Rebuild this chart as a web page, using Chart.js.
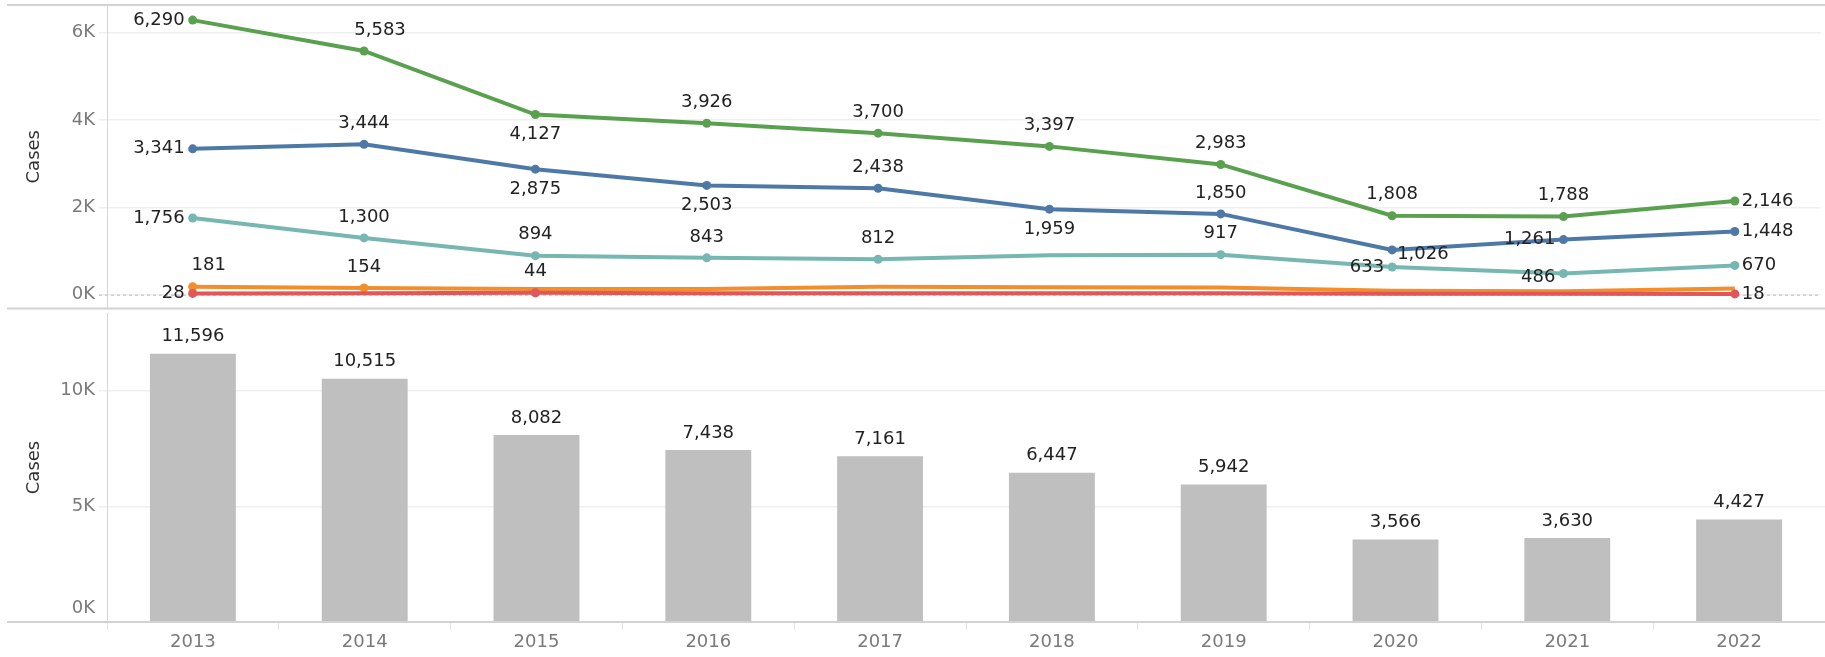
<!DOCTYPE html>
<html>
<head>
<meta charset="utf-8">
<script src="https://cdn.jsdelivr.net/npm/chart.js@4.4.1/dist/chart.umd.min.js"></script>
<style>
  body { margin: 0; background: #fff; }
  #wrap { position: relative; width: 1825px; height: 657px; }
  canvas { position: absolute; left: 0; }
</style>
</head>
<body>
<div id="wrap">
  <canvas id="lineChart" width="1825" height="313" style="top:0"></canvas>
  <canvas id="barChart" width="1825" height="344" style="top:313px"></canvas>
</div>
<script>
// categories
var years = ['2013', '2014', '2015', '2016', '2017', '2018', '2019', '2020', '2021', '2022'];

// line series (cases per year)
var greenCases  = [6290, 5583, 4127, 3926, 3700, 3397, 2983, 1808, 1788, 2146];
var blueCases   = [3341, 3444, 2875, 2503, 2438, 1959, 1850, 1026, 1261, 1448];
var tealCases   = [1756, 1300, 894, 843, 812, 905, 917, 633, 486, 670];
var orangeCases = [181, 154, 130, 130, 180, 170, 165, 90, 80, 140];
var redCases    = [28, 30, 44, 35, 35, 30, 32, 20, 20, 18];

// totals for the bars
var totalCases = [11596, 10515, 8082, 7438, 7161, 6447, 5942, 3566, 3630, 4427];

// tick labels
var topTicks = [0, 2000, 4000, 6000];
var bottomTicks = [0, 5000, 10000];

// where each label sits (null = no label / no marker)
var greenPos  = ['l', 'tr', 'b', 't', 't', 't', 't', 't', 't', 'r'];
var bluePos   = ['l', 't', 'b', 'b', 't', 'b', 't', 'rb', 'l', 'r'];
var tealPos   = ['l', 't', 't', 't', 't', null, 't', 'l', 'lb', 'r'];
var orangePos = ['tr', 't', null, null, null, null, null, null, null, null];
var redPos    = ['l', null, 't', null, null, null, null, null, null, 'r'];

var FONT = '"DejaVu Sans", sans-serif';
var FSIZE = 18;
var AXIS_W = 107;

function fmt(v) { return v.toLocaleString('en-US'); }
function kfmt(v) { return (v / 1000) + 'K'; }

function makeLine(data, color, pos) {
    return {
        data: data,
        borderColor: color,
        backgroundColor: color,
        borderWidth: 4,
        tension: 0,
        labelPos: pos,
        pointRadius: function (ctx) { return pos[ctx.dataIndex] ? 4.5 : 0; },
        pointHoverRadius: 4.5,
        pointBorderWidth: 0
    };
}

// draws value labels next to points / above bars
var valueLabels = {
    id: 'valueLabels',
    afterDatasetsDraw: function (chart) {
        var ctx = chart.ctx;
        ctx.save();
        ctx.font = FSIZE + 'px ' + FONT;
        ctx.fillStyle = '#222';
        ctx.textBaseline = 'middle';
        chart.data.datasets.forEach(function (ds, i) {
            var meta = chart.getDatasetMeta(i);
            meta.data.forEach(function (el, j) {
                var p = ds.labelPos ? ds.labelPos[j] : 'bar';
                if (!p) return;
                var x = el.x, y = el.y, txt = fmt(ds.data[j]);
                ctx.textAlign = 'center';
                if (p === 't') { y -= 21; }
                else if (p === 'tr') { y -= 21; x += 16; }
                else if (p === 'b') { y += 20; }
                else if (p === 'l') { x -= 8; ctx.textAlign = 'right'; }
                else if (p === 'lb') { x -= 8; y += 4; ctx.textAlign = 'right'; }
                else if (p === 'r') { x += 7; ctx.textAlign = 'left'; }
                else if (p === 'rb') { x += 5; y += 4; ctx.textAlign = 'left'; }
                else if (p === 'bar') { y -= 17; }
                ctx.fillText(txt, x, y);
            });
        });
        ctx.restore();
    }
};

// panel border lines and zero line
var frame = {
    id: 'frame',
    beforeDatasetsDraw: function (chart) {
        var ctx = chart.ctx, a = chart.chartArea;
        ctx.save();
        if (chart.canvas.id === 'lineChart') {
            var y0 = chart.scales.y.getPixelForValue(0);
            ctx.strokeStyle = '#bdbdbd';
            ctx.lineWidth = 1;
            ctx.setLineDash([3, 3]);
            ctx.beginPath();
            ctx.moveTo(99, y0 + 0.5);
            ctx.lineTo(a.right, y0 + 0.5);
            ctx.stroke();
        }
        ctx.restore();
    },
    afterDraw: function (chart) {
        var ctx = chart.ctx, a = chart.chartArea;
        ctx.save();
        ctx.strokeStyle = '#d2d2d2';
        ctx.lineWidth = 2;
        ctx.beginPath();
        if (chart.canvas.id === 'lineChart') {
            ctx.moveTo(7, a.top); ctx.lineTo(chart.width, a.top);
            ctx.moveTo(7, a.bottom); ctx.lineTo(chart.width, a.bottom);
        } else {
            ctx.moveTo(7, a.bottom); ctx.lineTo(chart.width, a.bottom);
            // 0K label sits just above the axis line
            ctx.font = FSIZE + 'px ' + FONT;
            ctx.fillStyle = '#7a7a7a';
            ctx.textAlign = 'right';
            ctx.textBaseline = 'middle';
            ctx.fillText('0K', AXIS_W - 12, a.bottom - 14);
        }
        ctx.stroke();
        ctx.restore();
    }
};

var yAxisBase = {
    afterFit: function (scale) {
        scale.width = AXIS_W;
        scale.paddingTop = 0;
        scale.paddingBottom = 0;
    },
    border: { display: true, color: '#d6d6d6', width: 1 },
    grid: { color: '#efefef', lineWidth: 1.5, tickLength: 8 },
    ticks: { color: '#7a7a7a', font: { family: FONT, size: FSIZE }, padding: 4 },
    title: {
        display: true, text: 'Cases', color: '#333',
        font: { family: FONT, size: FSIZE }, padding: { top: 24, bottom: 0 }
    }
};

new Chart(document.getElementById('lineChart'), {
    type: 'line',
    data: {
        labels: years,
        datasets: [
            makeLine(redCases, '#e15759', redPos),
            makeLine(orangeCases, '#f28e2b', orangePos),
            makeLine(tealCases, '#76b7b2', tealPos),
            makeLine(blueCases, '#4e79a7', bluePos),
            makeLine(greenCases, '#59a14f', greenPos)
        ]
    },
    options: {
        responsive: false,
        animation: false,
        layout: { padding: { top: 5, bottom: 1, left: 0, right: 0 } },
        plugins: { legend: { display: false }, tooltip: { enabled: false } },
        scales: {
            x: { display: false, offset: true },
            y: Object.assign({}, yAxisBase, {
                min: -317,
                max: 6636,
                afterBuildTicks: function (scale) {
                    scale.ticks = topTicks.map(function (v) { return { value: v }; });
                },
                ticks: Object.assign({}, yAxisBase.ticks, { callback: kfmt })
            })
        }
    },
    plugins: [frame, valueLabels]
});

new Chart(document.getElementById('barChart'), {
    type: 'bar',
    data: {
        labels: years,
        datasets: [{
            data: totalCases,
            backgroundColor: '#bfbfbf',
            barPercentage: 0.5,
            categoryPercentage: 1
        }]
    },
    options: {
        responsive: false,
        animation: false,
        layout: { padding: { top: 0, bottom: 0, left: 0, right: 0 } },
        plugins: { legend: { display: false }, tooltip: { enabled: false } },
        scales: {
            x: {
                afterFit: function (scale) { scale.height = 35; },
                border: { display: false },
                grid: { drawOnChartArea: false, color: '#e3e3e3', tickLength: 8, offset: true },
                ticks: { color: '#7a7a7a', font: { family: FONT, size: FSIZE }, padding: 2 }
            },
            y: Object.assign({}, yAxisBase, {
                min: 0,
                max: 13353,
                afterBuildTicks: function (scale) {
                    scale.ticks = bottomTicks.map(function (v) { return { value: v }; });
                },
                ticks: Object.assign({}, yAxisBase.ticks, {
                    callback: function (v) { return v === 0 ? '' : kfmt(v); }
                })
            })
        }
    },
    plugins: [frame, valueLabels]
});
</script>
</body>
</html>
